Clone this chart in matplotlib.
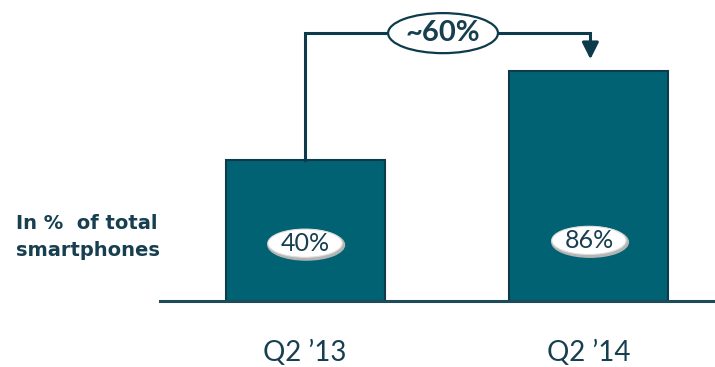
import matplotlib.pyplot as plt
from matplotlib.patches import Ellipse

# data
periods = ["Q2 \u201913", "Q2 \u201914"]
volume = [1.0, 1.63]          # relative bar height (index, Q2 '13 = 1)
share_labels = ["40%", "86%"]
growth_label = "~60%"
ylabel = "In %  of total\nsmartphones"

bar_color = "#006272"
edge_color = "#0d3b4b"
text_color = "#173f50"
plt.rcParams["font.family"] = ["Lato", "DejaVu Sans"]

fig = plt.figure(figsize=(7.15, 3.67), dpi=100)
ax = fig.add_axes([160 / 715, 66 / 367, 555 / 715, 301 / 367])

x = range(len(periods))
ax.bar(x, volume, width=0.56, color=bar_color, edgecolor=edge_color, linewidth=1.5, zorder=2)

ax.set_xlim(-0.511, 1.444)
ax.set_ylim(0, 2.135)

for s in ["top", "right", "left"]:
    ax.spines[s].set_visible(False)
ax.spines["bottom"].set_color("#1d4b5c")
ax.spines["bottom"].set_linewidth(2.2)
ax.set_yticks([])
ax.set_xticks(list(x))
ax.set_xticklabels(periods, fontsize=20, color=text_color)
ax.tick_params(axis="x", length=0, pad=28)

# value labels in white ovals
for i, (v, lab) in enumerate(zip(volume, share_labels)):
    yc = 0.41 if i == 0 else 0.43
    ax.add_patch(Ellipse((i + 0.004, yc - 0.012), 0.27, 0.215, color="#b5b5b5", zorder=3))
    ax.add_patch(Ellipse((i, yc), 0.262, 0.2, facecolor="white", edgecolor="#dddddd",
                         linewidth=0.8, zorder=4))
    ax.text(i, yc, lab, ha="center", va="center", fontsize=18, color=text_color, zorder=5)

# growth connector
top = 1.90
ax.plot([0, 0, 1.005, 1.005], [volume[0], top, top, 1.80], color=edge_color,
        linewidth=2.2, zorder=2, solid_joinstyle="miter")
ax.annotate("", xy=(1.005, 1.695), xytext=(1.005, 1.81),
            arrowprops=dict(arrowstyle="-|>,head_length=1.0,head_width=0.5",
                            color=edge_color, lw=2.2))
ax.add_patch(Ellipse((0.486, top), 0.387, 0.284, facecolor="white", edgecolor=edge_color,
                     linewidth=1.6, zorder=4))
ax.text(0.486, top, growth_label, ha="center", va="center", fontsize=21,
        fontweight="bold", color=text_color, zorder=5)

fig.text(16 / 715, 1 - 237 / 367, ylabel, ha="left", va="center", fontsize=14,
         fontweight="bold", color=text_color, linespacing=1.55, family="DejaVu Sans")

fig.savefig("out.png", dpi=100)
